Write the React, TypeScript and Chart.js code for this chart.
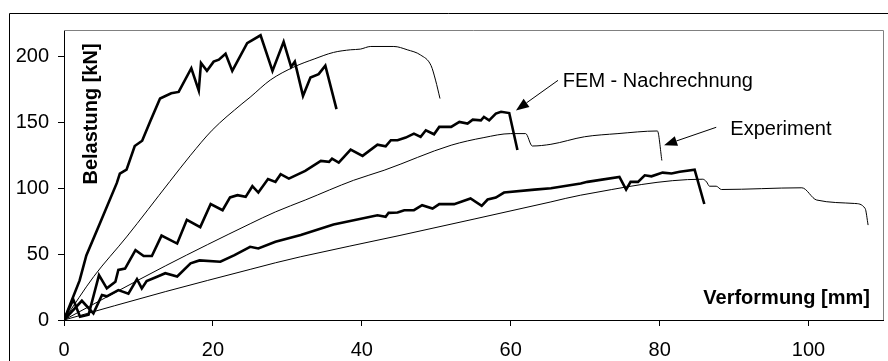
import React, { useEffect, useRef } from "react";
import { Chart, registerables } from "chart.js";

Chart.register(...registerables);

type P = [number, number];

// Thick lines: FEM - Nachrechnung
const femHigh: P[] = [
  [0, 0], [2.1, 30], [3, 49], [4.8, 73], [7.1, 104], [7.5, 111], [8.4, 114], [9.5, 132], [10.5, 136],
  [11.6, 151], [12.9, 168], [14.4, 172], [15.4, 173], [17.1, 191], [18.1, 174], [18.4, 195], [19.2, 189],
  [20.1, 196], [20.8, 197.5], [21.7, 202], [22.6, 189], [24.6, 210], [26.4, 216], [28, 189], [29.5, 211],
  [30.5, 192], [31, 196], [32.1, 170], [33.1, 184], [34.2, 186.5], [35.1, 193], [36.6, 160],
];

const femMid: P[] = [
  [0, 0], [1.25, 15.5], [2.15, 2.5], [3.3, 4], [4.7, 34], [5.75, 24], [6.9, 29], [7.3, 38], [8.2, 39],
  [9.6, 53], [10.7, 48.5], [11.8, 48.5], [13.1, 64], [15.2, 58], [16.5, 76], [18.3, 70.5], [19.7, 88],
  [21.3, 83.3], [22.3, 93], [23.3, 94.7], [24.4, 93.4], [25.3, 101.5], [26.1, 96.7], [27.4, 107],
  [28.4, 104.8], [29.1, 110.6], [30.2, 107.3], [32.4, 113.1], [34.5, 120.7], [35.6, 120], [36, 122.4],
  [36.9, 119.4], [38.5, 129.3], [40.1, 124.5], [42.1, 133], [43.2, 131.8], [43.9, 136.4], [44.8, 136.4],
  [45.9, 138.4], [47, 141.4], [47.9, 138.9], [48.6, 143.9], [49.7, 140.9], [50.4, 146.5], [52, 146.5],
  [53.1, 150.3], [54.2, 149], [54.9, 152], [56, 151.5], [56.4, 154], [57.1, 151.5], [58, 156.6],
  [58.7, 158], [59.8, 157], [60.9, 129],
];

const femLow: P[] = [
  [0, 0], [2.4, 14.6], [3.95, 5], [5.1, 19], [5.75, 18], [7.3, 22.7], [8.65, 20], [9.8, 31], [10.45, 24],
  [11.1, 29.5], [12.5, 32.8], [13.6, 35.5], [15.2, 33], [17, 43], [18.2, 45.2], [21, 44.2], [22.9, 49.2],
  [25, 55.5], [26.1, 54.3], [28.4, 59.3], [31.8, 64.4], [36.2, 72.4], [42.1, 79.5], [43.2, 78.3],
  [43.6, 81.3], [44.8, 81.6], [45.7, 83.3], [47, 83.3], [48.1, 87.1], [49.5, 84.6], [50.4, 87.9],
  [52.4, 87.9], [54.6, 92.2], [56.1, 86.6], [56.9, 91.4], [58, 92.9], [59.1, 96.7], [63.2, 98.9],
  [65.4, 100], [69.4, 103.5], [70.3, 104.8], [74.6, 108.6], [75.5, 99], [76.1, 104.8], [77.1, 104.8],
  [78, 109.8], [78.9, 109], [80.4, 111.8], [81.6, 111.1], [82.7, 112.4], [84.7, 114.1], [86, 88],
];

// Thin lines: Experiment
const expHigh: P[] = [
  [0, 0], [4, 33], [8.4, 63], [14.2, 105], [17, 125], [19.9, 144], [23.9, 164], [25, 169], [27.7, 182],
  [30.9, 192], [33.6, 198], [36.2, 203], [38.5, 205], [39.8, 205.5], [41.2, 207.5], [44.3, 207.5],
  [46.1, 205], [47.9, 201], [49.3, 193], [49.9, 182], [50.5, 168],
];

const expMid: P[] = [
  [0, 0], [13.6, 41], [25, 73], [28.4, 82], [32.4, 91], [38.9, 106], [43, 113.6], [52, 132.6],
  [56.4, 138.4], [60, 141.4], [62, 141.4], [62.9, 132], [65.4, 133.3], [69.9, 139], [74.4, 141.4],
  [79.7, 143.4], [80.3, 121],
];

const expLow: P[] = [
  [0, 0], [13.6, 21.5], [25, 38.4], [28.4, 43.4], [31.8, 48], [45, 64], [65.4, 89.6], [69.4, 94.7],
  [85.8, 106.8], [86.3, 104.8], [86.7, 101.5], [87.6, 101.5], [88.3, 99], [99.1, 100.3], [101.1, 91],
  [106.2, 88.4], [107.6, 84.6], [108, 72],
];

const xTicks = [0, 20, 40, 60, 80, 100];
const yTicks = [0, 50, 100, 150, 200];
const xMax = 110;
const yMax = 220;

const yTitle = "Belastung [kN]";
const xTitle = "Verformung [mm]";

// annotations: [label, textX, textY, tailX, tailY, tipX, tipY] in data units
const notes: { label: string; tx: number; ty: number; ax: number; ay: number; bx: number; by: number }[] = [
  { label: "FEM - Nachrechnung", tx: 67.0, ty: 177, ax: 66.35, ay: 181.8, bx: 60.7, by: 159 },
  { label: "Experiment", tx: 89.5, ty: 140, ax: 87.6, ay: 146.2, bx: 80.6, by: 132.6 },
];

const FONT = "'Liberation Sans', Arial, sans-serif";

const toXY = (a: P[]) => a.map(([x, y]) => ({ x, y }));

export default function App() {
  const ref = useRef<HTMLCanvasElement>(null);

  useEffect(() => {
    if (!ref.current) return;
    const thick = (d: P[]) => ({
      data: toXY(d),
      borderColor: "#000",
      borderWidth: 2.6,
      pointRadius: 0,
      tension: 0,
      borderJoinStyle: "miter" as const,
    });
    const thin = (d: P[]) => ({
      data: toXY(d),
      borderColor: "#000",
      borderWidth: 1,
      pointRadius: 0,
      cubicInterpolationMode: "monotone" as const,
    });

    const deco = {
      id: "deco",
      beforeDatasetsDraw(chart: any) {
        const { ctx, chartArea: a } = chart;
        ctx.save();
        ctx.strokeStyle = "#808080";
        ctx.lineWidth = 1;
        ctx.beginPath();
        ctx.moveTo(a.left, a.top + 0.5);
        ctx.lineTo(a.right + 0.5, a.top + 0.5);
        ctx.lineTo(a.right + 0.5, a.bottom);
        ctx.stroke();
        // outer frame
        ctx.strokeStyle = "#000";
        ctx.beginPath();
        ctx.moveTo(9.5, chart.height);
        ctx.lineTo(9.5, 13.5);
        ctx.lineTo(chart.width, 13.5);
        ctx.stroke();
        ctx.restore();
      },
      afterDraw(chart: any) {
        const { ctx, chartArea: a, scales } = chart;
        const xs = scales.x;
        const ys = scales.y;
        ctx.save();
        ctx.fillStyle = "#000";
        ctx.strokeStyle = "#000";
        // y title
        ctx.font = `bold 20px ${FONT}`;
        ctx.translate(a.left + 27.5, a.top + 84);
        ctx.rotate(-Math.PI / 2);
        ctx.textAlign = "center";
        ctx.textBaseline = "middle";
        ctx.fillText(yTitle, 0, 0);
        ctx.setTransform(1, 0, 0, 1, 0, 0);
        // x title
        ctx.textAlign = "right";
        ctx.textBaseline = "alphabetic";
        ctx.fillText(xTitle, a.right - 13, a.bottom - 16);
        // notes
        ctx.font = `20px ${FONT}`;
        ctx.textAlign = "left";
        for (const n of notes) {
          ctx.fillText(n.label, xs.getPixelForValue(n.tx), ys.getPixelForValue(n.ty));
          const x1 = xs.getPixelForValue(n.ax), y1 = ys.getPixelForValue(n.ay);
          const x2 = xs.getPixelForValue(n.bx), y2 = ys.getPixelForValue(n.by);
          const ang = Math.atan2(y2 - y1, x2 - x1);
          const L = 13, W = 5;
          const bx = x2 - L * Math.cos(ang), by = y2 - L * Math.sin(ang);
          ctx.lineWidth = 1;
          ctx.beginPath();
          ctx.moveTo(x1, y1);
          ctx.lineTo(bx, by);
          ctx.stroke();
          ctx.beginPath();
          ctx.moveTo(x2, y2);
          ctx.lineTo(bx + W * Math.sin(ang), by - W * Math.cos(ang));
          ctx.lineTo(bx - W * Math.sin(ang), by + W * Math.cos(ang));
          ctx.closePath();
          ctx.fill();
        }
        ctx.restore();
      },
    };

    const chart = new Chart(ref.current, {
      type: "line",
      data: {
        datasets: [thin(expHigh), thin(expMid), thin(expLow), thick(femHigh), thick(femMid), thick(femLow)],
      },
      options: {
        animation: false,
        responsive: false,
        devicePixelRatio: 1,
        parsing: true,
        layout: { padding: { left: 0, top: 30, right: 5, bottom: 0 } },
        plugins: { legend: { display: false }, tooltip: { enabled: false } },
        scales: {
          x: {
            type: "linear",
            min: 0,
            max: xMax,
            afterBuildTicks: (s: any) => {
              s.ticks = xTicks.map((v) => ({ value: v }));
            },
            afterFit: (s: any) => {
              s.height = 41;
            },
            grid: { drawOnChartArea: false, drawTicks: true, tickLength: 6, color: "#000" },
            border: { display: true, color: "#000", width: 1 },
            ticks: { color: "#000", font: { family: FONT, size: 20 }, padding: 12, maxRotation: 0, autoSkip: false },
          },
          y: {
            type: "linear",
            min: 0,
            max: yMax,
            afterBuildTicks: (s: any) => {
              s.ticks = yTicks.map((v) => ({ value: v }));
            },
            afterFit: (s: any) => {
              s.width = 64;
            },
            grid: { drawOnChartArea: false, drawTicks: true, tickLength: 6, color: "#000" },
            border: { display: true, color: "#000", width: 1 },
            ticks: { color: "#000", font: { family: FONT, size: 20 }, padding: 9, autoSkip: false },
          },
        },
      },
      plugins: [deco],
    } as any);
    return () => chart.destroy();
  }, []);

  return (
    <div style={{ position: "fixed", left: 0, top: 0, width: 888, height: 361, background: "#fff" }}>
      <canvas ref={ref} width={888} height={361} style={{ width: 888, height: 361, display: "block" }} />
    </div>
  );
}
